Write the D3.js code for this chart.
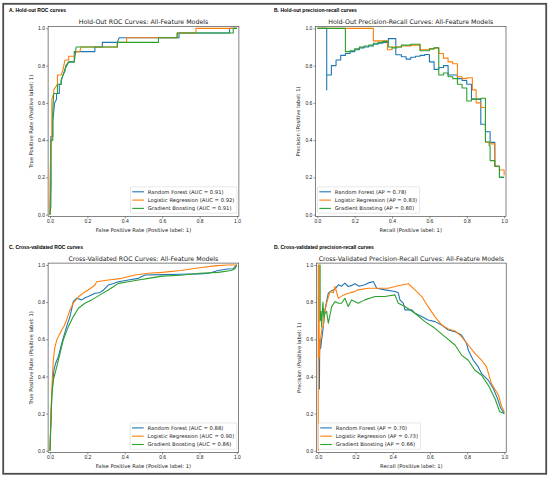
<!DOCTYPE html>
<html>
<head>
<meta charset="utf-8">
<script src="https://cdn.jsdelivr.net/npm/d3@7"></script>
<style>
  body { margin: 0; background: #fff; }
  svg { display: block; font-family: "DejaVu Sans", sans-serif; }
</style>
</head>
<body>
<svg id="chart" width="550" height="478"></svg>
<script>
// Models, colours and scores
const models = ["Random Forest", "Logistic Regression", "Gradient Boosting"];
const colors = ["#1f77b4", "#ff7f0e", "#2ca02c"];
const rocHoldAUC = [0.91, 0.92, 0.91];
const prHoldAP = [0.78, 0.83, 0.80];
const rocCvAUC = [0.88, 0.90, 0.86];
const prCvAP = [0.70, 0.73, 0.66];
const tickValues = [0, 0.2, 0.4, 0.6, 0.8, 1.0];

// A. hold-out ROC (fpr, tpr)
const rocHoldRF = [[0,0],[0,0.05],[0.005,0.15],[0.005,0.42],[0.015,0.42],[0.015,0.5],[0.02,0.55],[0.025,0.6],[0.035,0.62],[0.035,0.65],[0.05,0.65],[0.05,0.7],[0.06,0.7],[0.06,0.72],[0.07,0.75],[0.08,0.78],[0.09,0.8],[0.1,0.82],[0.13,0.82],[0.13,0.875],[0.24,0.875],[0.24,0.9],[0.28,0.9],[0.28,0.925],[0.36,0.925],[0.37,0.95],[0.69,0.95],[0.69,0.975],[0.96,0.975],[0.96,1],[1,1]];
const rocHoldLR = [[0,0],[0,0.16],[0.003,0.3],[0.005,0.38],[0.01,0.4],[0.01,0.62],[0.02,0.65],[0.02,0.67],[0.04,0.7],[0.04,0.75],[0.06,0.75],[0.07,0.78],[0.08,0.83],[0.1,0.83],[0.1,0.85],[0.13,0.85],[0.14,0.875],[0.16,0.875],[0.165,0.9],[0.36,0.9],[0.36,0.925],[0.41,0.925],[0.41,0.95],[0.68,0.95],[0.68,0.975],[0.78,0.975],[0.78,1],[1,1]];
const rocHoldGB = [[0,0],[0.005,0.05],[0.005,0.4],[0.015,0.4],[0.015,0.55],[0.02,0.65],[0.04,0.65],[0.04,0.7],[0.06,0.7],[0.06,0.72],[0.07,0.75],[0.08,0.77],[0.085,0.8],[0.1,0.82],[0.13,0.82],[0.14,0.9],[0.36,0.9],[0.36,0.925],[0.58,0.925],[0.58,0.95],[0.68,0.95],[0.68,0.975],[0.98,0.975],[0.98,1],[1,1]];

// B. hold-out precision-recall (recall, precision), precision held until next recall
const prHoldRF = [[0,1],[0.05,0.67],[0.05,0.75],[0.075,0.8],[0.1,0.83],[0.125,0.855],[0.15,0.865],[0.175,0.875],[0.2,0.885],[0.225,0.895],[0.25,0.9],[0.275,0.905],[0.3,0.915],[0.325,0.92],[0.35,0.925],[0.38,0.945],[0.42,0.858],[0.45,0.848],[0.475,0.835],[0.5,0.845],[0.525,0.85],[0.55,0.855],[0.575,0.86],[0.6,0.82],[0.625,0.78],[0.65,0.79],[0.675,0.8],[0.7,0.75],[0.725,0.75],[0.75,0.73],[0.775,0.72],[0.8,0.7],[0.825,0.62],[0.85,0.62],[0.875,0.485],[0.9,0.445],[0.925,0.388],[0.95,0.26],[0.975,0.2],[1,0.2]];
const prHoldLR = [[0,1],[0.3,0.933],[0.375,0.885],[0.4,0.9],[0.45,0.905],[0.5,0.91],[0.55,0.885],[0.6,0.89],[0.625,0.895],[0.65,0.865],[0.675,0.84],[0.7,0.82],[0.725,0.81],[0.75,0.74],[0.775,0.73],[0.8,0.735],[0.83,0.67],[0.85,0.6],[0.875,0.575],[0.9,0.39],[0.925,0.38],[0.95,0.26],[0.975,0.24],[1,0.21]];
const prHoldGB = [[0,1],[0.15,0.875],[0.175,0.88],[0.2,0.89],[0.225,0.9],[0.25,0.905],[0.275,0.91],[0.3,0.92],[0.325,0.925],[0.35,0.93],[0.38,0.9],[0.4,0.895],[0.425,0.9],[0.45,0.91],[0.5,0.915],[0.55,0.88],[0.6,0.89],[0.625,0.895],[0.65,0.75],[0.675,0.76],[0.7,0.74],[0.725,0.73],[0.75,0.7],[0.775,0.68],[0.8,0.61],[0.825,0.62],[0.875,0.625],[0.9,0.39],[0.92,0.37],[0.925,0.29],[0.95,0.26],[0.975,0.2],[1,0.2]];

// C. cross-validated ROC (fpr, tpr)
const rocCvRF = [[0,0],[0.005,0.15],[0.01,0.3],[0.021,0.434],[0.03,0.47],[0.045,0.506],[0.063,0.578],[0.075,0.62],[0.089,0.668],[0.107,0.722],[0.125,0.803],[0.143,0.821],[0.17,0.812],[0.19,0.825],[0.205,0.83],[0.241,0.848],[0.265,0.85],[0.286,0.865],[0.312,0.892],[0.34,0.9],[0.366,0.91],[0.42,0.919],[0.473,0.928],[0.509,0.946],[0.6,0.948],[0.7,0.95],[0.8,0.952],[0.85,0.955],[0.9,0.97],[0.95,0.978],[0.98,0.98],[1,1]];
const rocCvLR = [[0,0],[0.005,0.2],[0.01,0.33],[0.014,0.42],[0.018,0.488],[0.025,0.55],[0.036,0.596],[0.05,0.625],[0.063,0.65],[0.075,0.67],[0.089,0.704],[0.107,0.758],[0.125,0.794],[0.152,0.829],[0.18,0.85],[0.205,0.865],[0.241,0.892],[0.25,0.91],[0.312,0.919],[0.384,0.928],[0.455,0.946],[0.527,0.955],[0.6,0.96],[0.7,0.97],[0.8,0.985],[0.88,0.995],[0.95,1],[1,1]];
const rocCvGB = [[0,0],[0.005,0.15],[0.01,0.3],[0.018,0.38],[0.036,0.452],[0.054,0.524],[0.071,0.596],[0.098,0.668],[0.125,0.722],[0.152,0.767],[0.187,0.794],[0.223,0.812],[0.268,0.839],[0.312,0.865],[0.339,0.883],[0.366,0.901],[0.42,0.91],[0.473,0.919],[0.527,0.928],[0.6,0.94],[0.7,0.945],[0.8,0.955],[0.9,0.96],[0.97,0.97],[0.99,0.98],[1,1]];

// D. cross-validated precision-recall (recall, precision)
const prCvRF = [[0.006,0.33],[0.008,0.6],[0.013,0.55],[0.018,0.596],[0.025,0.65],[0.036,0.758],[0.054,0.848],[0.07,0.86],[0.09,0.87],[0.108,0.893],[0.125,0.885],[0.143,0.902],[0.161,0.884],[0.18,0.89],[0.197,0.899],[0.22,0.885],[0.25,0.893],[0.275,0.905],[0.296,0.911],[0.314,0.875],[0.358,0.866],[0.412,0.857],[0.43,0.85],[0.439,0.812],[0.457,0.794],[0.466,0.758],[0.502,0.758],[0.52,0.74],[0.556,0.722],[0.59,0.704],[0.627,0.695],[0.663,0.677],[0.699,0.65],[0.735,0.641],[0.77,0.623],[0.797,0.578],[0.806,0.542],[0.833,0.487],[0.86,0.451],[0.878,0.415],[0.914,0.379],[0.941,0.334],[0.96,0.29],[0.98,0.23],[1,0.2]];
const prCvLR = [[0,0],[0,1],[0.005,1],[0.005,0.5],[0.012,0.6],[0.02,0.66],[0.027,0.667],[0.035,0.75],[0.045,0.795],[0.063,0.857],[0.081,0.85],[0.09,0.884],[0.108,0.82],[0.13,0.835],[0.161,0.848],[0.19,0.855],[0.215,0.866],[0.269,0.875],[0.323,0.875],[0.376,0.875],[0.43,0.888],[0.484,0.899],[0.52,0.866],[0.556,0.83],[0.59,0.776],[0.627,0.722],[0.663,0.677],[0.699,0.655],[0.735,0.645],[0.77,0.614],[0.806,0.569],[0.842,0.524],[0.878,0.487],[0.905,0.45],[0.93,0.363],[0.968,0.3],[0.985,0.24],[1,0.21]];
const prCvGB = [[0.006,1],[0.01,1],[0.01,0.7],[0.015,0.75],[0.018,0.666],[0.025,0.8],[0.03,0.72],[0.036,0.74],[0.045,0.75],[0.054,0.686],[0.072,0.776],[0.09,0.803],[0.108,0.794],[0.125,0.794],[0.143,0.821],[0.161,0.776],[0.179,0.812],[0.215,0.794],[0.25,0.812],[0.305,0.83],[0.358,0.83],[0.412,0.839],[0.43,0.794],[0.466,0.776],[0.52,0.74],[0.573,0.695],[0.627,0.659],[0.68,0.614],[0.735,0.569],[0.77,0.515],[0.806,0.487],[0.842,0.433],[0.878,0.406],[0.914,0.352],[0.95,0.28],[0.975,0.21],[1,0.2]];

const svg = d3.select("#chart");

// font sizes fitted so that reference strings get their measured widths
function fitSize(str, target, weight, family) {
    const t = svg.append("text")
        .style("font-size", "20px")
        .style("font-weight", weight || "normal")
        .style("font-family", family || null)
        .text(str);
    const w = t.node().getComputedTextLength();
    t.remove();
    return 20 * target / w;
}
const tagFont = "'Liberation Sans', Arial, sans-serif";
const titleSize = fitSize("Hold-Out ROC Curves: All-Feature Models", 130);
const labelSize = fitSize("False Positive Rate (Positive label: 1)", 95.7);
const legendSize = fitSize("Random Forest (AUC = 0.91)", 76);
const tickSize = labelSize * 0.95;
const tagSize = fitSize("A. Hold-out ROC curves", 57, "bold", tagFont);

// outer frame of the figure
svg.append("rect")
    .attr("x", 3.2).attr("y", 3.8)
    .attr("width", 543).attr("height", 470)
    .attr("fill", "none")
    .attr("stroke", "#4d4d4d")
    .attr("stroke-width", 1.8);

const panels = [
    { tag: "A. Hold-out ROC curves", tagX: 9, tagY: 11.8, left: 48.1, right: 238.9, top: 26.5, bottom: 216.5,
      title: "Hold-Out ROC Curves: All-Feature Models", xlab: "False Positive Rate (Positive label: 1)",
      ylab: "True Positive Rate (Positive label: 1)", series: [rocHoldRF, rocHoldLR, rocHoldGB],
      metric: "AUC", scores: rocHoldAUC, legend: "right", step: false },
    { tag: "B. Hold-out precision-recall curves", tagX: 274, tagY: 11.8, left: 315.5, right: 506, top: 26.5, bottom: 216.5,
      title: "Hold-Out Precision-Recall Curves: All-Feature Models", xlab: "Recall (Positive label: 1)",
      ylab: "Precision (Positive label: 1)", series: [prHoldRF, prHoldLR, prHoldGB],
      metric: "AP", scores: prHoldAP, legend: "left", step: true },
    { tag: "C. Cross-validated ROC curves", tagX: 9, tagY: 248.5, left: 48.1, right: 238.7, top: 263.1, bottom: 452.6,
      title: "Cross-Validated ROC Curves: All-Feature Models", xlab: "False Positive Rate (Positive label: 1)",
      ylab: "True Positive Rate (Positive label: 1)", series: [rocCvRF, rocCvLR, rocCvGB],
      metric: "AUC", scores: rocCvAUC, legend: "right", step: false },
    { tag: "D. Cross-validated precision-recall curves", tagX: 274, tagY: 248.5, left: 316.4, right: 506.2, top: 263.1, bottom: 452.6,
      title: "Cross-Validated Precision-Recall Curves: All-Feature Models", xlab: "Recall (Positive label: 1)",
      ylab: "Precision (Positive label: 1)", series: [prCvRF, prCvLR, prCvGB],
      metric: "AP", scores: prCvAP, legend: "left", step: false }
];

panels.forEach(drawPanel);

function drawPanel(p) {
    const g = svg.append("g");
    const x = d3.scaleLinear().domain([-0.01, 1.01]).range([p.left, p.right]);
    const y = d3.scaleLinear().domain([-0.01, 1.01]).range([p.bottom, p.top]);
    const fmt = d3.format(".1f");

    g.append("text")
        .attr("x", p.tagX).attr("y", p.tagY)
        .style("font-family", tagFont)
        .style("font-weight", "bold")
        .style("font-size", tagSize + "px")
        .text(p.tag);

    const xAxis = g.append("g")
        .attr("transform", `translate(0,${p.bottom})`)
        .call(d3.axisBottom(x).tickValues(tickValues).tickFormat(fmt).tickSize(2).tickPadding(1.2));
    const yAxis = g.append("g")
        .attr("transform", `translate(${p.left},0)`)
        .call(d3.axisLeft(y).tickValues(tickValues).tickFormat(fmt).tickSize(2).tickPadding(1.2));
    [xAxis, yAxis].forEach(a => {
        a.select(".domain").remove();
        a.selectAll("line").attr("stroke", "#333").attr("stroke-width", 0.5);
        a.selectAll("text").style("font-size", tickSize + "px").style("font-family", null).attr("fill", "#222");
    });

    const line = d3.line()
        .x(d => x(d[0])).y(d => y(d[1]))
        .curve(p.step ? d3.curveStepAfter : d3.curveLinear);

    p.series.forEach((s, i) => {
        g.append("path")
            .datum(s)
            .attr("d", line)
            .attr("fill", "none")
            .attr("stroke", colors[i])
            .attr("stroke-width", 1.1)
            .attr("stroke-linejoin", "round");
    });

    g.append("rect")
        .attr("x", p.left).attr("y", p.top)
        .attr("width", p.right - p.left).attr("height", p.bottom - p.top)
        .attr("fill", "none").attr("stroke", "#333").attr("stroke-width", 0.6);

    const cx = (p.left + p.right) / 2, cy = (p.top + p.bottom) / 2;
    g.append("text")
        .attr("x", cx).attr("y", p.top - 2.4)
        .attr("text-anchor", "middle")
        .style("font-size", titleSize + "px").attr("fill", "#222")
        .text(p.title);
    g.append("text")
        .attr("x", cx).attr("y", p.bottom + 15.4)
        .attr("text-anchor", "middle")
        .style("font-size", labelSize + "px").attr("fill", "#222")
        .text(p.xlab);
    g.append("text")
        .attr("transform", `translate(${p.left - 15.2},${cy}) rotate(-90)`)
        .attr("text-anchor", "middle")
        .style("font-size", labelSize + "px").attr("fill", "#222")
        .text(p.ylab);

    // legend
    const lg = g.append("g");
    const box = lg.append("rect")
        .attr("fill", "white").attr("fill-opacity", 0.8)
        .attr("stroke", "#d0d0d0").attr("stroke-width", 0.5)
        .attr("rx", 1);
    let maxW = 0;
    const rows = models.map((m, i) => {
        const row = lg.append("g");
        row.append("line")
            .attr("x1", 0).attr("x2", 11.7)
            .attr("stroke", colors[i]).attr("stroke-width", 1.1);
        const t = row.append("text")
            .attr("x", 15.5).attr("y", legendSize * 0.36)
            .style("font-size", legendSize + "px").attr("fill", "#222")
            .text(`${m} (${p.metric} = ${p.scores[i].toFixed(2)})`);
        maxW = Math.max(maxW, t.node().getComputedTextLength());
        return row;
    });
    const bw = 1.8 + 15.5 + maxW + 2.5, bh = 26.4;
    const bx = p.legend === "right" ? p.right - 2 - bw : p.left + 2;
    const by = p.bottom - 3.3 - bh;
    box.attr("x", bx).attr("y", by).attr("width", bw).attr("height", bh);
    rows.forEach((r, i) => r.attr("transform", `translate(${bx + 1.8},${by + 5 + i * 8.3})`));
}
</script>
</body>
</html>
